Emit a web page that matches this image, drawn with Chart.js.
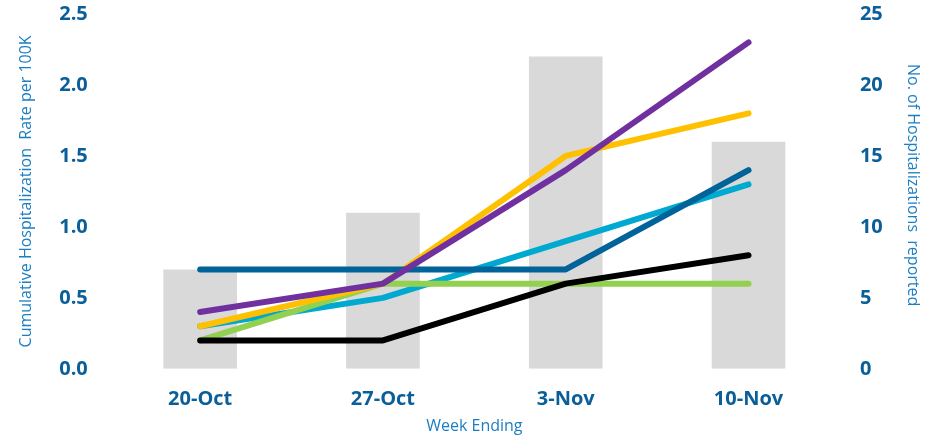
<!DOCTYPE html>
<html>
<head>
<meta charset="utf-8">
<script src="https://cdn.jsdelivr.net/npm/chart.js@4"></script>
<style>
html,body{margin:0;padding:0;background:#fff;overflow:hidden;}
#wrap{width:935px;height:436px;position:relative;overflow:hidden;}
#c{position:absolute;left:0;top:-19px;}
</style>
</head>
<body>
<div id="wrap"><canvas id="c" width="935" height="455"></canvas></div>
<script>
const categories = ["20-Oct", "27-Oct", "3-Nov", "10-Nov"];
const hospitalizations = [7, 11, 22, 16];
const seriesDarkBlue = [0.7, 0.7, 0.7, 1.4];
const seriesPurple = [0.4, 0.6, 1.4, 2.3];
const seriesYellow = [0.3, 0.6, 1.5, 1.8];
const seriesCyan = [0.3, 0.5, 0.9, 1.3];
const seriesGreen = [0.2, 0.6, 0.6, 0.6];
const seriesBlack = [0.2, 0.2, 0.6, 0.8];

const tickColor = '#0a5f9a';
const titleColor = '#1b7ec2';
const FONT = "'Open Sans', sans-serif";

function line(data, color, order) {
  return {type:'line', data, borderColor:color, backgroundColor:color, borderWidth:6,
    pointRadius:0, borderCapStyle:'round', borderJoinStyle:'round', tension:0, yAxisID:'y', order};
}

new Chart(document.getElementById('c'), {
  data: {
    labels: categories,
    datasets: [
      line(seriesPurple, '#7030a0', 1),
      line(seriesDarkBlue, '#00639a', 2),
      line(seriesYellow, '#ffc000', 3),
      line(seriesBlack, '#000000', 4),
      line(seriesGreen, '#92d050', 5),
      line(seriesCyan, '#00a9d0', 6),
      {type:'bar', data:hospitalizations, backgroundColor:'#d9d9d9', yAxisID:'y1', order:10,
       barPercentage:0.403, categoryPercentage:1.0}
    ]
  },
  options: {
    responsive:false, animation:false,
    layout:{padding:{left:17, right:4, top:0, bottom:0}},
    plugins:{legend:{display:false}, tooltip:{enabled:false}},
    scales:{
      x:{
        grid:{display:false, drawTicks:false}, border:{display:false},
        ticks:{color:tickColor, font:{family:FONT, size:20, weight:'bold'}, padding:18},
        title:{display:true, text:'Week Ending', color:titleColor, font:{family:FONT, size:16}, padding:{top:-12,bottom:0}}
      },
      y:{
        position:'left', min:0, max:2.5,
        grid:{display:false, drawTicks:false}, border:{display:false},
        ticks:{stepSize:0.5, color:tickColor, font:{family:FONT, size:20, weight:'bold'}, padding:21,
          callback:v=>v.toFixed(1)},
        title:{display:true, text:'Cumulative Hospitalization  Rate per 100K', color:titleColor, font:{family:FONT, size:16}, padding:{top:0,bottom:2}}
      },
      y1:{
        position:'right', min:0, max:25,
        grid:{display:false, drawTicks:false}, border:{display:false},
        ticks:{stepSize:5, color:tickColor, font:{family:FONT, size:20, weight:'bold'}, padding:20},
        title:{display:true, text:'No. of Hospitalizations  reported   ', color:titleColor, font:{family:FONT, size:16}, padding:{top:9,bottom:0}}
      }
    }
  }
});
</script>
</body>
</html>
